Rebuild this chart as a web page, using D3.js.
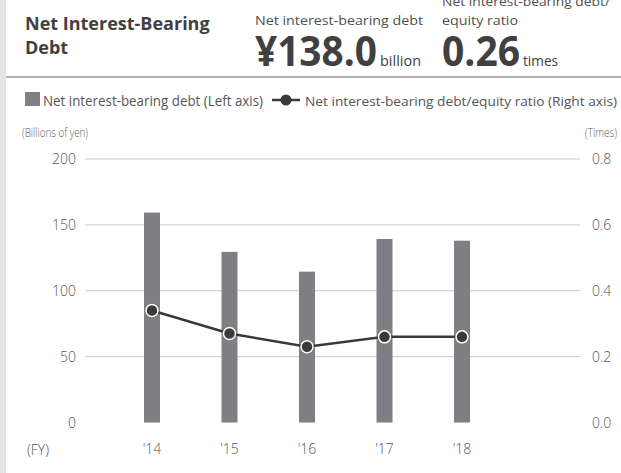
<!DOCTYPE html>
<html>
<head>
<meta charset="utf-8">
<script src="https://cdn.jsdelivr.net/npm/d3@7"></script>
<style>
  body { margin: 0; background: #fff; }
  svg { display: block; font-family: "Open Sans", "Noto Sans", sans-serif; }
</style>
</head>
<body>
<div id="chart"></div>
<script>
const years = ["'14", "'15", "'16", "'17", "'18"];
const debtValues = [159.3, 129.5, 114.5, 139.3, 138.0];
const ratioValues = [0.34, 0.27, 0.23, 0.26, 0.26];
const leftTicks = [0, 50, 100, 150, 200];
const rightTicks = [0.0, 0.2, 0.4, 0.6, 0.8];

const W = 621, H = 473;
const svg = d3.select("#chart").append("svg")
    .attr("width", W)
    .attr("height", H);

// grey strip on the left + header
svg.append("rect").attr("x", 0).attr("y", 0).attr("width", 6).attr("height", H).attr("fill", "#e4e4e6");
svg.append("line").attr("x1", 6).attr("x2", W).attr("y1", 77).attr("y2", 77)
    .attr("stroke", "#9a9a9a").attr("stroke-width", 1.5);

const title = svg.append("text").attr("x", 25).attr("fill", "#404040")
    .attr("font-size", 18).attr("font-weight", 700);
title.append("tspan").attr("x", 25).attr("y", 30).text("Net Interest-Bearing");
title.append("tspan").attr("x", 25).attr("y", 54).text("Debt");

svg.append("text").attr("x", 255).attr("y", 25).attr("font-size", 13)
    .attr("fill", "#505050").attr("textLength", 168).attr("lengthAdjust", "spacingAndGlyphs")
    .text("Net interest-bearing debt");
svg.append("text").attr("x", 442).attr("y", 6).attr("font-size", 13)
    .attr("fill", "#505050").attr("textLength", 168).attr("lengthAdjust", "spacingAndGlyphs")
    .text("Net interest-bearing debt/");
svg.append("text").attr("x", 442).attr("y", 25).attr("font-size", 13)
    .attr("fill", "#505050").attr("textLength", 76).attr("lengthAdjust", "spacingAndGlyphs")
    .text("equity ratio");

// big figures (condensed look)
const big = svg.append("text").attr("y", 66).attr("fill", "#404040").attr("font-weight", 700);
big.append("tspan").attr("x", 255).attr("font-size", 41).attr("textLength", 122)
    .attr("lengthAdjust", "spacingAndGlyphs").text("¥138.0");
big.append("tspan").attr("x", 380).attr("font-size", 15).attr("font-weight", 400)
    .attr("textLength", 41).attr("lengthAdjust", "spacingAndGlyphs").text("billion");
const big2 = svg.append("text").attr("y", 66).attr("fill", "#404040").attr("font-weight", 700);
big2.append("tspan").attr("x", 442).attr("font-size", 41).attr("textLength", 78)
    .attr("lengthAdjust", "spacingAndGlyphs").text("0.26");
big2.append("tspan").attr("x", 523).attr("font-size", 15).attr("font-weight", 400)
    .attr("textLength", 35).attr("lengthAdjust", "spacingAndGlyphs").text("times");

// legend
const legend = svg.append("g");
legend.append("rect").attr("x", 25).attr("y", 92).attr("width", 15).attr("height", 14).attr("fill", "#808083");
legend.append("text").attr("x", 43).attr("y", 106).attr("font-size", 14).attr("fill", "#555")
    .attr("textLength", 220).attr("lengthAdjust", "spacingAndGlyphs")
    .text("Net interest-bearing debt (Left axis)");
legend.append("line").attr("x1", 272).attr("x2", 300).attr("y1", 100).attr("y2", 100)
    .attr("stroke", "#3a3a3a").attr("stroke-width", 2.5);
legend.append("circle").attr("cx", 286).attr("cy", 100).attr("r", 5.5).attr("fill", "#3a3a3a");
legend.append("text").attr("x", 305).attr("y", 106).attr("font-size", 13.5).attr("fill", "#555")
    .attr("textLength", 312).attr("lengthAdjust", "spacingAndGlyphs")
    .text("Net interest-bearing debt/equity ratio (Right axis)");

// scales
const x = d3.scaleBand().domain(years).range([113.25, 500.75]);
const yL = d3.scaleLinear().domain([0, 200]).range([422.5, 159]);
const yR = d3.scaleLinear().domain([0, 0.8]).range([422.5, 159]);

// gridlines
svg.append("g").selectAll("line").data(leftTicks.filter(d => d > 0)).join("line")
    .attr("x1", 85).attr("x2", 580)
    .attr("y1", d => yL(d)).attr("y2", d => yL(d))
    .attr("stroke", "#c8c8c8").attr("stroke-width", 1);

// axis labels
svg.append("text").attr("x", 22).attr("y", 137).attr("font-size", 12).attr("fill", "#5a5a5a")
    .attr("font-weight", 300).attr("textLength", 66).attr("lengthAdjust", "spacingAndGlyphs")
    .text("(Billions of yen)");
svg.append("text").attr("x", 585).attr("y", 137).attr("font-size", 12).attr("fill", "#5a5a5a")
    .attr("font-weight", 300).attr("textLength", 32)
    .attr("lengthAdjust", "spacingAndGlyphs").text("(Times)");

const leftAxis = svg.append("g").attr("transform", "translate(76,0)")
    .call(d3.axisLeft(yL).tickValues(leftTicks).tickSize(0).tickPadding(0));
const rightAxis = svg.append("g").attr("transform", "translate(592,0)")
    .call(d3.axisRight(yR).tickValues(rightTicks).tickSize(0).tickPadding(0).tickFormat(d3.format(".1f")));
const bottomAxis = svg.append("g").attr("transform", "translate(0,440)")
    .call(d3.axisBottom(x).tickSize(0).tickPadding(0));
[leftAxis, rightAxis, bottomAxis].forEach(a => {
    a.select(".domain").remove();
    a.selectAll("text").attr("font-size", 14).attr("fill", "#555")
        .attr("font-family", "'Open Sans', sans-serif").attr("font-weight", 300);
});
leftAxis.selectAll("text").attr("dy", "0.35em");
rightAxis.selectAll("text").attr("dy", "0.35em");
bottomAxis.selectAll("text").attr("dy", "1em");

svg.append("text").attr("x", 27).attr("y", 455).attr("font-size", 14).attr("fill", "#555")
    .attr("font-weight", 300).text("(FY)");

// bars
const barW = 16;
svg.append("g").selectAll("rect").data(debtValues).join("rect")
    .attr("x", (d, i) => x(years[i]) + x.bandwidth() / 2 - barW / 2)
    .attr("y", d => yL(d))
    .attr("width", barW)
    .attr("height", d => yL(0) - yL(d))
    .attr("fill", "#7f7f83");

// ratio line
const line = d3.line()
    .x((d, i) => x(years[i]) + x.bandwidth() / 2)
    .y(d => yR(d));
svg.append("path").datum(ratioValues).attr("d", line)
    .attr("fill", "none").attr("stroke", "#3a3a3a").attr("stroke-width", 2.5);
svg.append("g").selectAll("circle").data(ratioValues).join("circle")
    .attr("cx", (d, i) => x(years[i]) + x.bandwidth() / 2)
    .attr("cy", d => yR(d))
    .attr("r", 6)
    .attr("fill", "#3a3a3a")
    .attr("stroke", "#fff").attr("stroke-width", 1.5);
</script>
</body>
</html>
